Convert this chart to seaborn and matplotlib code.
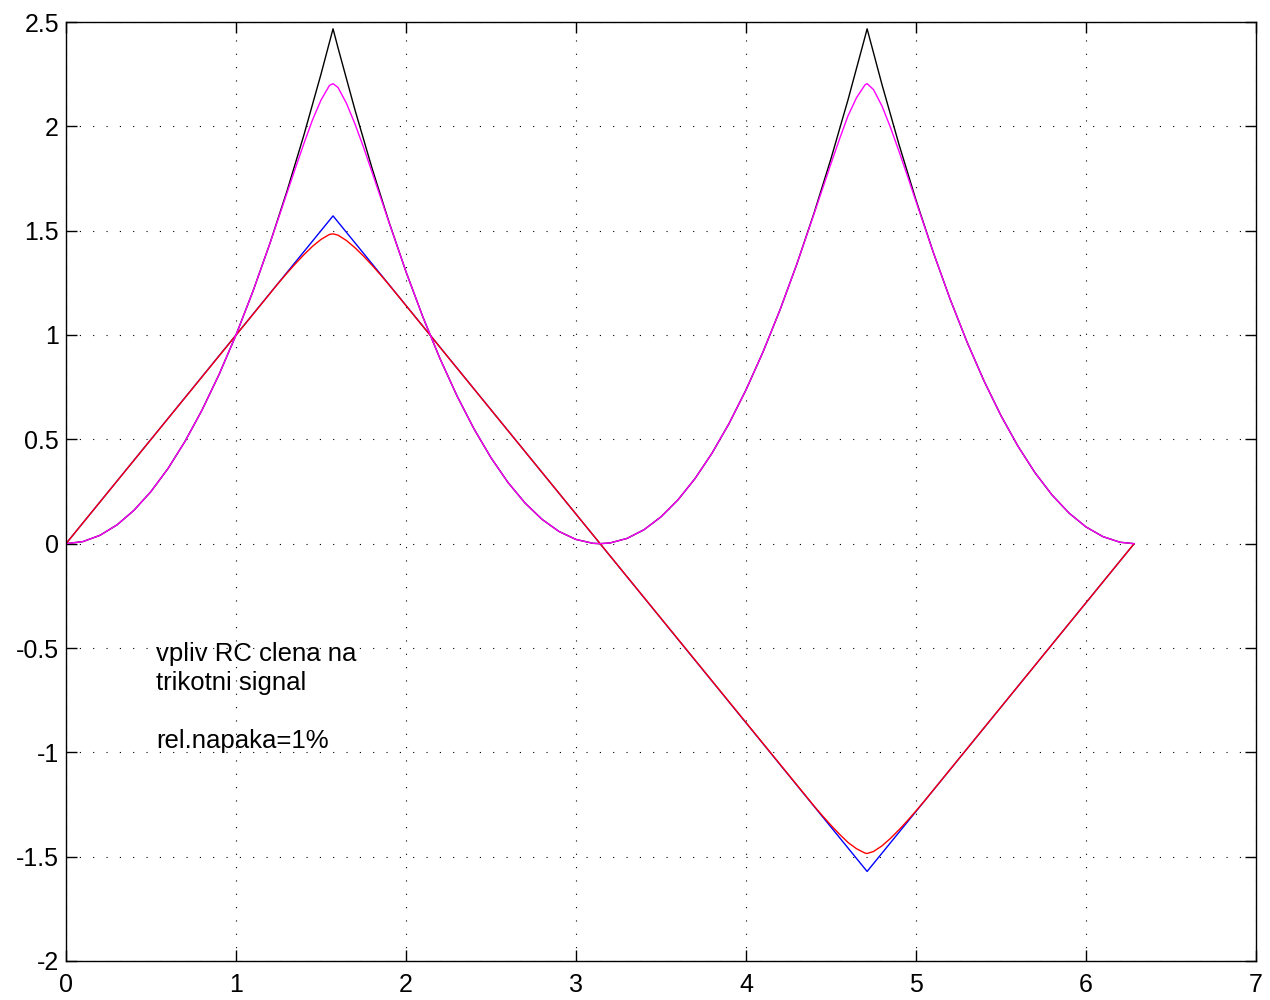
import matplotlib
matplotlib.use("Agg")
import matplotlib.pyplot as plt
import seaborn as sns
from matplotlib.ticker import FuncFormatter

sns.set_theme(style="white")
plt.rcParams['font.family'] = ['Liberation Sans', 'DejaVu Sans']

# --- blue: triangle signal (vertices)
x_tri = [0.0, 1.5708, 4.7124, 6.2832]
y_tri = [0.0, 1.5708, -1.5708, 0.0]

# --- black: squared triangle
x_sq = [0.0, 0.1, 0.2, 0.3, 0.4, 0.5, 0.6, 0.7, 0.8, 0.9, 1.0, 1.1, 1.2, 1.3,
        1.4, 1.5, 1.5708, 1.6, 1.7, 1.8, 1.9, 2.0, 2.1, 2.2, 2.3, 2.4, 2.5,
        2.6, 2.7, 2.8, 2.9, 3.0, 3.1, 3.1416, 3.2, 3.3, 3.4, 3.5, 3.6, 3.7,
        3.8, 3.9, 4.0, 4.1, 4.2, 4.3, 4.4, 4.5, 4.6, 4.7, 4.7124, 4.8, 4.9,
        5.0, 5.1, 5.2, 5.3, 5.4, 5.5, 5.6, 5.7, 5.8, 5.9, 6.0, 6.1, 6.2, 6.2832]
y_sq = [0.0, 0.01, 0.04, 0.09, 0.16, 0.25, 0.36, 0.49, 0.64, 0.81, 1.0, 1.21,
        1.44, 1.69, 1.96, 2.25, 2.4674, 2.3765, 2.0782, 1.7999, 1.5416,
        1.3032, 1.0849, 0.8866, 0.7083, 0.5500, 0.4117, 0.2933, 0.1950,
        0.1167, 0.0584, 0.0201, 0.0017, 0.0, 0.0034, 0.0251, 0.0668, 0.1285,
        0.2101, 0.3118, 0.4335, 0.5752, 0.7369, 0.9185, 1.1202, 1.3419,
        1.5836, 1.8453, 2.1269, 2.4286, 2.4674, 2.1999, 1.9132, 1.6466,
        1.4000, 1.1733, 0.9667, 0.7800, 0.6134, 0.4668, 0.3401, 0.2335,
        0.1468, 0.0802, 0.0336, 0.0069, 0.0]

# --- red: RC-filtered triangle (rounded tips)
x_rc = [0.0, 1.25, 1.3, 1.35, 1.4, 1.45, 1.5, 1.55, 1.5708, 1.6, 1.65, 1.7,
        1.75, 1.8, 1.85, 1.9, 4.4, 4.45, 4.5, 4.55, 4.6, 4.65, 4.7, 4.7124,
        4.75, 4.8, 4.85, 4.9, 4.95, 5.0, 5.05, 6.2832]
y_rc = [0.0, 1.249, 1.2965, 1.342, 1.3853, 1.425, 1.458, 1.482, 1.4848,
        1.4786, 1.4526, 1.4181, 1.3784, 1.3346, 1.2886, 1.2408, -1.2569,
        -1.3042, -1.3496, -1.3924, -1.4319, -1.4619, -1.4829, -1.4848,
        -1.4752, -1.4482, -1.4122, -1.3712, -1.3272, -1.2807, -1.2328, 0.0]

# --- magenta: squared filtered signal
x_rc_sq = [0.0, 0.1, 0.2, 0.3, 0.4, 0.5, 0.6, 0.7, 0.8, 0.9, 1.0, 1.1, 1.2,
           1.25, 1.3, 1.35, 1.4, 1.45, 1.5, 1.55, 1.5708, 1.6, 1.65, 1.7,
           1.75, 1.8, 1.85, 1.9, 2.0, 2.1, 2.2, 2.3, 2.4, 2.5, 2.6, 2.7, 2.8,
           2.9, 3.0, 3.1, 3.1416, 3.2, 3.3, 3.4, 3.5, 3.6, 3.7, 3.8, 3.9, 4.0,
           4.1, 4.2, 4.3, 4.4, 4.45, 4.5, 4.55, 4.6, 4.65, 4.7, 4.7124, 4.75,
           4.8, 4.85, 4.9, 4.95, 5.0, 5.05, 5.1, 5.2, 5.3, 5.4, 5.5, 5.6, 5.7,
           5.8, 5.9, 6.0, 6.1, 6.2, 6.2832]
y_rc_sq = [0.0, 0.01, 0.04, 0.09, 0.16, 0.25, 0.36, 0.49, 0.64, 0.81, 1.0,
           1.21, 1.44, 1.5600, 1.6809, 1.8010, 1.9190, 2.0306, 2.1258,
           2.1963, 2.2046, 2.1863, 2.1100, 2.0110, 1.9000, 1.7811, 1.6605,
           1.5396, 1.3032, 1.0849, 0.8866, 0.7083, 0.5500, 0.4117, 0.2933,
           0.1950, 0.1167, 0.0584, 0.0201, 0.0017, 0.0, 0.0034, 0.0251,
           0.0668, 0.1285, 0.2101, 0.3118, 0.4335, 0.5752, 0.7369, 0.9185,
           1.1202, 1.3419, 1.5798, 1.7009, 1.8214, 1.9388, 2.0503, 2.1371,
           2.1990, 2.2046, 2.1762, 2.0973, 1.9943, 1.8802, 1.7615, 1.6402,
           1.5198, 1.4000, 1.1733, 0.9667, 0.7800, 0.6134, 0.4668, 0.3401,
           0.2335, 0.1468, 0.0802, 0.0336, 0.0069, 0.0]

x_ticks = [0, 1, 2, 3, 4, 5, 6, 7]
y_ticks = [-2, -1.5, -1, -0.5, 0, 0.5, 1, 1.5, 2, 2.5]
note = "vpliv RC clena na\ntrikotni signal\n\nrel.napaka=1%"

fig = plt.figure(figsize=(12.7, 10), dpi=100)
ax = fig.add_axes([66/1270, 1-961/1000, (1256-66)/1270, (961-22)/1000])

for xs, ys, col in [(x_tri, y_tri, 'blue'), (x_sq, y_sq, 'black'),
                    (x_rc, y_rc, 'red'), (x_rc_sq, y_rc_sq, 'magenta')]:
    sns.lineplot(x=xs, y=ys, color=col, lw=1.0, ax=ax,
                 estimator=None, sort=False)

ax.set_xlim(0, 7)
ax.set_ylim(-2, 2.5)
ax.set_xticks(x_ticks)
ax.set_yticks(y_ticks)
fmt = FuncFormatter(lambda v, p: ('%g' % v))
ax.xaxis.set_major_formatter(fmt)
ax.yaxis.set_major_formatter(fmt)
ax.tick_params(direction='in', length=8, width=1, colors='black',
               labelsize=18, top=True, right=True, bottom=True, left=True)
ax.tick_params(axis='y', pad=5)
ax.tick_params(axis='x', pad=9)
for s in ax.spines.values():
    s.set_visible(True)
    s.set_color('black')
    s.set_linewidth(1.0)
ax.grid(True, color='black', linestyle=(0, (1, 11)), linewidth=0.8)
ax.set_facecolor('white')

ax.text(0.53, -0.979, note, fontsize=18.5, color='black', va='baseline',
        ha='left', linespacing=1.26)

fig.savefig("out.png", dpi=100, facecolor='white')
